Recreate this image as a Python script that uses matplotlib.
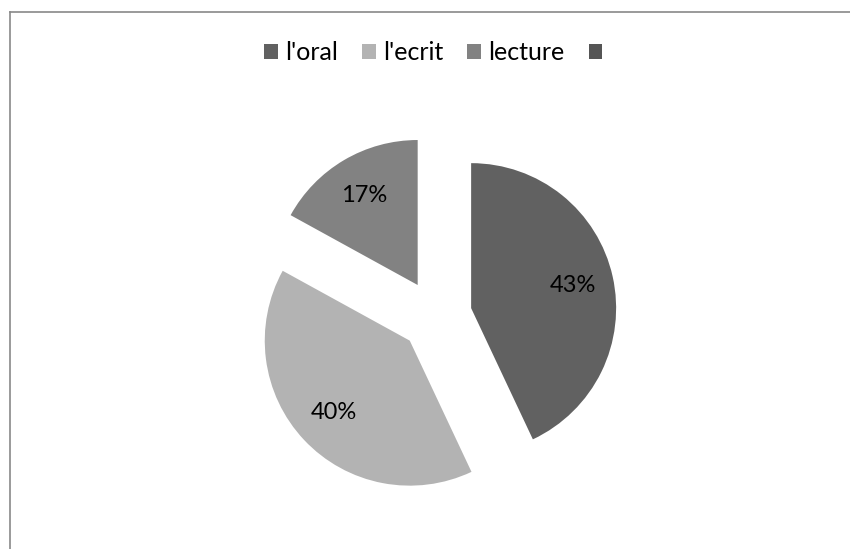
import matplotlib
matplotlib.use("Agg")
from matplotlib import pyplot as plt
from matplotlib.patches import Patch
from matplotlib.lines import Line2D

plt.rcParams['font.family'] = ['Lato', 'DejaVu Sans']

# données du graphique
categories = ["l'oral", "l'ecrit", "lecture", ""]
valeurs = [43, 40, 17]
couleurs = ["#616161", "#b3b3b3", "#828282", "#555555"]

W, H = 850, 549
fig = plt.figure(figsize=(W / 100, H / 100), dpi=100)
ax = fig.add_axes([0, 0, 1, 1])

# camembert éclaté (coordonnées en pixels)
wedges, texts, autotexts = ax.pie(
    valeurs, colors=couleurs[:3], startangle=90, counterclock=False,
    center=(436, H - 316), radius=145, explode=[36] * 3,
    autopct='%d%%', pctdistance=0.72, frame=True,
    wedgeprops=dict(linewidth=0),
    textprops=dict(fontsize=17, color='#000000'))
ax.set_xlim(0, W)
ax.set_ylim(0, H)
ax.axis('off')

# légende
handles = [Patch(facecolor=c, edgecolor='none') for c in couleurs]
fig.legend(handles, categories, loc='center', bbox_to_anchor=(437 / W, 1 - 53 / H),
           ncol=4, frameon=False, fontsize=18, handlelength=0.55,
           handleheight=0.55, handletextpad=0.3, columnspacing=0.95)

# cadre
fig.add_artist(Line2D([10 / W, 1], [1 - 12 / H, 1 - 12 / H], color='#898989', lw=1.2))
fig.add_artist(Line2D([10 / W, 10 / W], [0, 1 - 12 / H], color='#898989', lw=1.2))

fig.savefig("out.png", dpi=100)
